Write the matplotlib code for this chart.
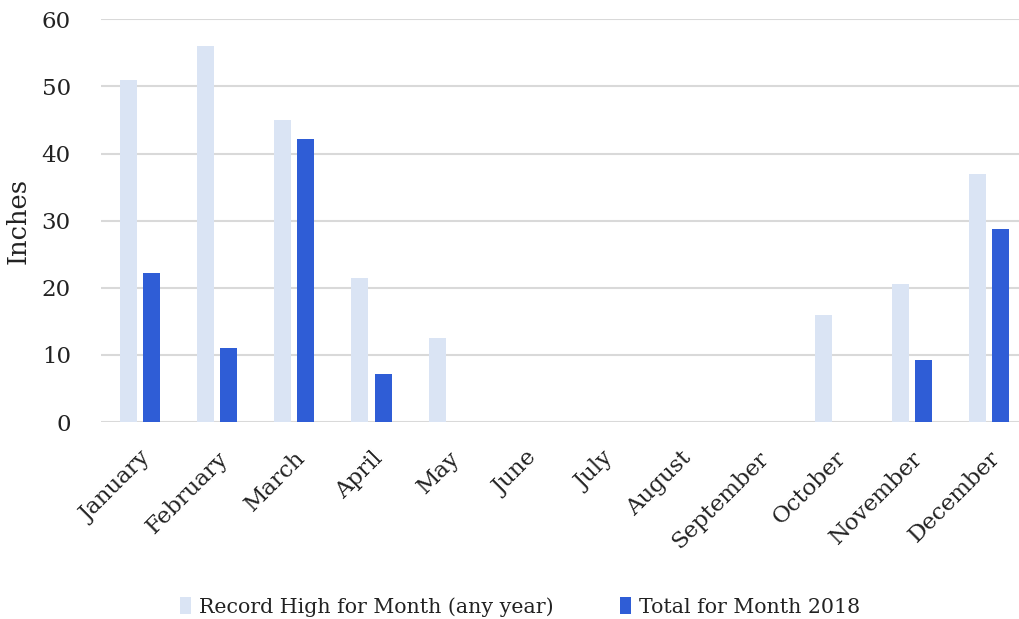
import matplotlib
matplotlib.use("Agg")
import matplotlib.pyplot as plt
import numpy as np

months = ["January", "February", "March", "April", "May", "June", "July",
          "August", "September", "October", "November", "December"]
record_high = [51, 56, 45, 21.5, 12.5, 0, 0, 0, 0, 16, 20.5, 37]
total_2018 = [22.2, 11, 42.2, 7.1, 0, 0, 0, 0, 0, 0, 9.2, 28.8]
yticks = [0, 10, 20, 30, 40, 50, 60]

plt.rcParams['font.family'] = ['DejaVu Serif']

fig = plt.figure(figsize=(10.2, 6.19), dpi=100)
ax = fig.add_axes([0.0994, 0.318, 0.908, 0.651])

x = np.arange(len(months))
w = 0.22
ax.bar(x - 0.15, record_high, width=w, color='#DAE4F4', label='Record High for Month (any year)', zorder=2)
ax.bar(x + 0.15, total_2018, width=w, color='#2F5DD6', label='Total for Month 2018', zorder=3)

ax.set_xlim(-0.5, len(months) - 0.5)
ax.set_ylim(0, 60)
ax.set_yticks(yticks)
ax.set_yticklabels([str(v) for v in yticks], fontsize=16.5, color='#222222')
ax.yaxis.grid(True, color='#D9D9D9', linewidth=1.5, zorder=0)
ax.set_axisbelow(True)
for s in ax.spines.values():
    s.set_visible(False)
ax.tick_params(axis='both', length=0)
ax.tick_params(axis='y', pad=22)
ax.set_xticks(x)
ax.set_xticklabels(months, rotation=45, ha='right', rotation_mode='anchor', fontsize=16.5, color='#222222')
ax.tick_params(axis='x', pad=18)
ax.set_ylabel('Inches', fontsize=18.5, color='#222222', labelpad=8)

leg = fig.legend(loc='lower center', bbox_to_anchor=(0.51, -0.026), ncol=2, frameon=False,
                 fontsize=14.8, handlelength=0.55, handleheight=0.9, columnspacing=3.2, handletextpad=0.4)
for t in leg.get_texts():
    t.set_color('#222222')

fig.savefig('out.png', dpi=100)
